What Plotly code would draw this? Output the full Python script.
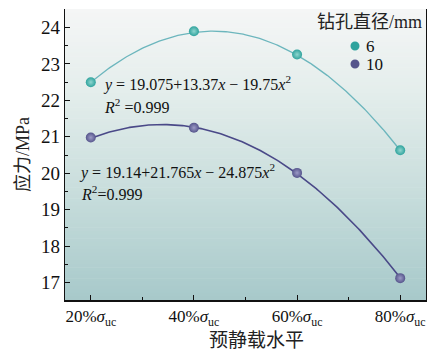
import numpy as np
import plotly.graph_objects as go

# Pre-static load levels (fraction of uniaxial compressive strength)
load_levels = [0.2, 0.4, 0.6, 0.8]
tick_labels = ["20%<i>σ</i><sub>uc</sub>", "40%<i>σ</i><sub>uc</sub>",
               "60%<i>σ</i><sub>uc</sub>", "80%<i>σ</i><sub>uc</sub>"]

# Measured stress (MPa) for each borehole diameter
diameters = ["6", "10"]
stress_6mm = [22.50, 23.90, 23.26, 20.63]
stress_10mm = [20.98, 21.25, 20.01, 17.12]

# Quadratic fit coefficients a + b x + c x^2
fit_6mm = [19.14, 21.765, -24.875]
fit_10mm = [19.075, 13.37, -19.75]
r2_text = "0.999"

FONT = "Liberation Serif, Noto Sans CJK SC, serif"
C6_MARK, C6_LINE = "#2fa39d", "#6cb6bd"
C10_MARK, C10_LINE = "#56558c", "#4a4988"

W, H = 429, 356
ML, MR, MT, MB = 65, 3, 9, 56
pw, ph = W - ML - MR, H - MT - MB


def px_x(p):
    return (p - ML) / pw


def px_y(p):
    return 1 - (p - MT) / ph


fig = go.Figure()

xf = np.linspace(load_levels[0], load_levels[-1], 200)


def poly(c, x):
    return c[0] + c[1] * x + c[2] * x ** 2


fig.add_trace(go.Scatter(x=xf, y=poly(fit_6mm, xf), mode="lines",
                         line=dict(color=C6_LINE, width=1.3),
                         showlegend=False, hoverinfo="skip"))
fig.add_trace(go.Scatter(x=xf, y=poly(fit_10mm, xf), mode="lines",
                         line=dict(color=C10_LINE, width=1.6),
                         showlegend=False, hoverinfo="skip"))

fig.add_trace(go.Scatter(x=load_levels, y=stress_6mm, mode="markers", name=diameters[0],
                         showlegend=False,
                         marker=dict(size=10, color=C6_MARK,
                                     gradient=dict(type="radial", color="#8fd6cf"))))
fig.add_trace(go.Scatter(x=load_levels, y=stress_10mm, mode="markers", name=diameters[1],
                         showlegend=False,
                         marker=dict(size=10, color=C10_MARK,
                                     gradient=dict(type="radial", color="#9c9bc6"))))


def eq_text(c):
    return (f"<i>y</i> = {c[0]:g}+{c[1]:g}<i>x</i> − {abs(c[2]):g}<i>x</i><sup>2</sup>")


annots = [
    dict(text=eq_text(fit_10mm), px=101, py=84),
    dict(text=f"<i>R</i><sup>2</sup> ={r2_text}", px=102, py=106),
    dict(text=eq_text(fit_6mm), px=77, py=171),
    dict(text=f"<i>R</i><sup>2</sup>={r2_text}", px=79, py=193),
]

for a in annots:
    fig.add_annotation(text=a["text"], xref="paper", yref="paper",
                       x=px_x(a["px"]), y=px_y(a["py"]),
                       xanchor="left", yanchor="middle", showarrow=False,
                       font=dict(family=FONT, size=16, color="#111"))

# Legend drawn by hand: heading, keys and labels
fig.add_annotation(text="钻孔直径/mm", xref="paper", yref="paper",
                   x=px_x(424), y=px_y(22),
                   xanchor="right", yanchor="middle", showarrow=False,
                   font=dict(family=FONT, size=18, color="#222"))

shapes = []
for name, col, cy in [(diameters[0], C6_MARK, 46), (diameters[1], C10_MARK, 64)]:
    shapes.append(dict(type="circle", xref="paper", yref="paper",
                       xsizemode="pixel", ysizemode="pixel",
                       xanchor=px_x(355), yanchor=px_y(cy),
                       x0=-4.5, x1=4.5, y0=-4.5, y1=4.5,
                       fillcolor=col, line=dict(width=0)))
    fig.add_annotation(text=name, xref="paper", yref="paper",
                       x=px_x(365), y=px_y(cy), xanchor="left", yanchor="middle",
                       showarrow=False, borderpad=0,
                       font=dict(family=FONT, size=17, color="#111"))

# Vertical background gradient built from stacked bands
stops = [(0.0, (0xf5, 0xf6, 0xf6)), (0.3, (0xe3, 0xed, 0xeb)),
         (0.65, (0xc6, 0xdc, 0xdb)), (1.0, (0xa7, 0xc9, 0xca))]


def grad(t):
    for (t0, c0), (t1, c1) in zip(stops[:-1], stops[1:]):
        if t <= t1:
            f = (t - t0) / (t1 - t0)
            return "rgb(%d,%d,%d)" % tuple(round(c0[i] + f * (c1[i] - c0[i])) for i in range(3))
    return "rgb(%d,%d,%d)" % stops[-1][1]


N = 80
bands = []
for i in range(N):
    t = (i + 0.5) / N
    bands.append(dict(type="rect", xref="paper", yref="paper", layer="below",
                      x0=0, x1=1, y1=1 - i / N, y0=1 - (i + 1) / N - 0.002,
                      line=dict(width=0), fillcolor=grad(t)))

# X-axis title placed as text below the tick labels
fig.add_annotation(text="预静载水平", xref="paper", yref="paper",
                   x=px_x(256), y=px_y(340), xanchor="center", yanchor="middle",
                   showarrow=False, font=dict(family=FONT, size=19, color="#222"))

fig.update_layout(
    width=W, height=H,
    margin=dict(l=ML, r=MR, t=MT, b=MB),
    paper_bgcolor="white", plot_bgcolor="rgba(0,0,0,0)",
    shapes=bands + shapes,
    font=dict(family=FONT, color="#222"),
    showlegend=False,
    xaxis=dict(range=[0.15, 0.85], tickvals=load_levels, ticktext=tick_labels,
               ticks="inside", ticklen=5, tickcolor="#111",
               minor=dict(dtick=0.1, tick0=0.1, ticks="inside", ticklen=3, tickcolor="#111"),
               showline=True, linecolor="#111", linewidth=1.5, showgrid=False, zeroline=False,
               tickfont=dict(family=FONT, size=17, color="#111")),
    yaxis=dict(range=[16.52, 24.51], dtick=1, tick0=17,
               ticks="inside", ticklen=5, tickcolor="#111",
               minor=dict(dtick=0.5, ticks="inside", ticklen=3, tickcolor="#111"),
               showline=True, linecolor="#111", linewidth=1.2, mirror=True,
               showgrid=False, zeroline=False,
               tickfont=dict(family=FONT, size=19, color="#111"),
               title=dict(text="应力/MPa", font=dict(family=FONT, size=18, color="#222"),
                          standoff=6)),
)

fig.write_html("out.html")
